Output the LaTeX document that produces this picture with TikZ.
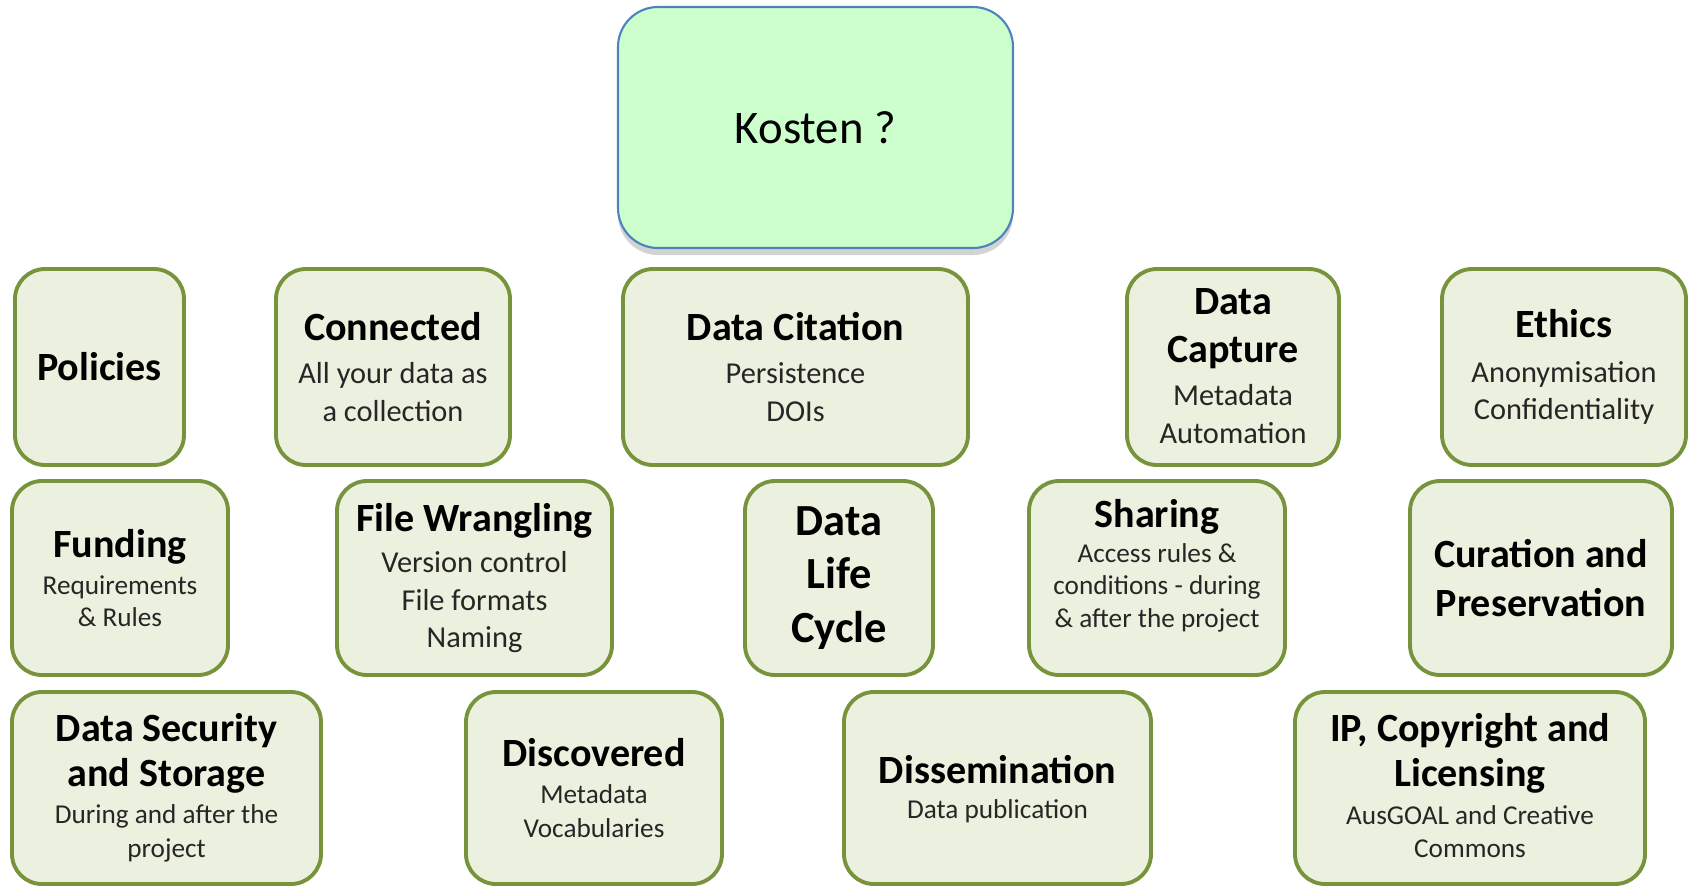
\documentclass[tikz,border=0pt]{standalone}
\usepackage{fontspec}
\setmainfont{Carlito}
\usepackage{tikz}
\usetikzlibrary{shadows}

\definecolor{olivebd}{HTML}{77933C}
\definecolor{olivefill}{HTML}{EBF1DE}
\definecolor{kostfill}{HTML}{CCFFCC}
\definecolor{kostbd}{HTML}{4F81BD}

\newcommand{\ttl}{\fontsize{22.8}{27.5}\selectfont\bfseries\color{black}}
\newcommand{\bigttl}{\fontsize{25.3}{30.5}\selectfont\bfseries\color{black}}
\newcommand{\bdy}{\fontsize{17.3}{21.4}\selectfont\color{black!85}}
\newcommand{\sbdy}{\fontsize{15.5}{18.3}\selectfont\color{black!85}}

\begin{document}
\begin{tikzpicture}[box/.style={draw=olivebd, fill=olivefill, line width=2.2pt, rounded corners=0.6cm, align=center, inner sep=0pt, font=\bdy},
  small/.style={font=\sbdy}]
\useasboundingbox (0,0) rectangle (33.78,-17.74);

\node (kosten) at (16.31,-2.55) [draw=kostbd, fill=kostfill, line width=1.2pt, rounded corners=0.8cm, minimum width=7.9cm, minimum height=4.82cm, drop shadow={shadow xshift=0pt, shadow yshift=-4pt, opacity=0.35}, font=\fontsize{26.6}{32}\selectfont] {Kosten ?};

% first row
\node (policies) at (1.99,-7.34) [box, font=\ttl, minimum width=3.38cm, minimum height=3.92cm] {Policies};
\node (connected) at (7.86,-7.34) [box, minimum width=4.68cm, minimum height=3.92cm] {\ttl Connected\\[3pt] All your data as\\ a collection};
\node (citation) at (15.91,-7.34) [box, minimum width=6.9cm, minimum height=3.92cm] {\ttl Data Citation\\[3pt] Persistence\\ DOIs};
\node (capture) at (24.66,-7.34) [box, minimum width=4.24cm, minimum height=3.92cm, text depth=0.05cm] {\ttl Data\\[6pt] \ttl Capture\\[3pt] Metadata\\ Automation};
\node (ethics) at (31.28,-7.34) [box, minimum width=4.88cm, minimum height=3.92cm] {\ttl Ethics\\[4pt] Anonymisation\\ Confidentiality};

% second row
\node (funding) at (2.40,-11.56) [box, small, minimum width=4.32cm, minimum height=3.88cm] {\ttl Funding\\[3pt] Requirements\\ \& Rules};
\node (wrangling) at (9.49,-11.56) [box, minimum width=5.5cm, minimum height=3.88cm] {\ttl File Wrangling\\[2pt] Version control\\ File formats\\ Naming};
\node (lifecycle) at (16.78,-11.56) [box, font=\bigttl, minimum width=3.76cm, minimum height=3.88cm] {Data\\ Life\\ Cycle};
\node (sharing) at (23.14,-11.56) [box, small, minimum width=5.12cm, minimum height=3.88cm, text depth=0.6cm] {\ttl Sharing\\[2pt] Access rules \&\\ conditions - during\\ \& after the project};
\node (curation) at (30.82,-11.56) [box, font=\ttl, minimum width=5.24cm, minimum height=3.88cm] {Curation and\\ Preservation};

% third row
\node (security) at (3.33,-15.76) [box, small, minimum width=6.18cm, minimum height=3.84cm, text depth=0.1cm] {\ttl Data Security\\[5pt] \ttl and Storage\\[3pt] During and after the\\[1pt] project};
\node (discovered) at (11.88,-15.76) [box, small, minimum width=5.12cm, minimum height=3.84cm] {\ttl Discovered\\[3pt] Metadata\\[1pt] Vocabularies};
\node (dissemination) at (19.95,-15.76) [box, small, minimum width=6.14cm, minimum height=3.84cm, text depth=0.05cm] {\ttl Dissemination\\[2pt] Data publication};
\node (licensing) at (29.40,-15.76) [box, small, minimum width=7cm, minimum height=3.84cm, text depth=0.1cm] {\ttl IP, Copyright and\\[5pt] \ttl Licensing\\[3pt] AusGOAL and Creative\\[1pt] Commons};
\end{tikzpicture}
\end{document}
